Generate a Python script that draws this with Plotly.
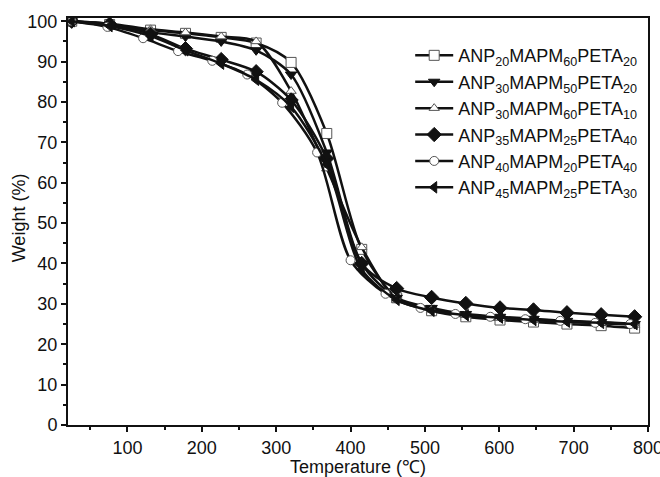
import plotly.graph_objects as go

# Temperatures (°C) at the marker positions
temp_a = [25, 76, 131, 178, 226, 273, 320, 368, 415, 462, 509, 555, 601, 646, 691, 737, 782]
temp_c = [25, 73, 121, 168, 214, 261, 308, 355, 400, 447, 494, 541, 588, 635, 682, 729, 776]

w_anp20 = [100, 99.2, 97.8, 97.0, 96.0, 94.6, 89.8, 72.2, 43.5, 31.5, 28.3, 26.8, 26.0, 25.5, 25.0, 24.6, 24.0]
w_anp30a = [100, 99.0, 97.3, 96.2, 95.0, 92.8, 86.8, 67.5, 40.0, 31.5, 29.0, 27.5, 26.8, 26.3, 25.8, 25.5, 25.0]
w_anp30b = [100, 99.4, 98.0, 97.2, 96.2, 95.0, 82.7, 63.5, 44.0, 31.0, 28.5, 27.2, 26.5, 26.0, 25.6, 25.2, 24.8]
w_anp35 = [100, 99.3, 96.8, 93.2, 90.5, 87.5, 80.5, 66.0, 40.0, 33.8, 31.6, 30.1, 29.0, 28.5, 27.8, 27.3, 26.8]
w_anp40 = [100, 98.6, 95.8, 92.6, 90.2, 86.8, 79.8, 67.5, 40.8, 32.5, 29.0, 27.5, 26.8, 26.2, 25.8, 25.3, 25.0]
w_anp45 = [100, 98.8, 96.3, 92.8, 89.5, 85.5, 78.8, 64.5, 38.5, 31.0, 28.3, 27.2, 26.6, 26.0, 25.6, 25.3, 25.0]

names = [
    "ANP<sub>20</sub>MAPM<sub>60</sub>PETA<sub>20</sub>",
    "ANP<sub>30</sub>MAPM<sub>50</sub>PETA<sub>20</sub>",
    "ANP<sub>30</sub>MAPM<sub>60</sub>PETA<sub>10</sub>",
    "ANP<sub>35</sub>MAPM<sub>25</sub>PETA<sub>40</sub>",
    "ANP<sub>40</sub>MAPM<sub>20</sub>PETA<sub>40</sub>",
    "ANP<sub>45</sub>MAPM<sub>25</sub>PETA<sub>30</sub>",
]

series = [
    (temp_a, w_anp20, "square", "white", 10),
    (temp_a, w_anp30a, "triangle-down", "#111", 10),
    (temp_a, w_anp30b, "triangle-up", "white", 9),
    (temp_a, w_anp35, "diamond", "#111", 11),
    (temp_c, w_anp40, "circle", "white", 9),
    (temp_a, w_anp45, "triangle-left", "#111", 10),
]

FONT = "Liberation Sans, Arial, Helvetica, sans-serif"

fig = go.Figure()
for (xs, ys, sym, fill, sz), nm in zip(series, names):
    fig.add_trace(go.Scatter(
        x=xs, y=ys, name=nm, mode="lines+markers",
        line=dict(color="#111", width=2.5, shape="spline", smoothing=0.8),
        marker=dict(symbol=sym, size=sz, color=fill,
                    line=dict(color="#555" if fill == "white" else "#111", width=1)),
    ))

fig.update_layout(
    width=660, height=477,
    margin=dict(l=68, r=12, t=18, b=52),
    paper_bgcolor="white", plot_bgcolor="white",
    font=dict(family=FONT, size=18, color="#111"),
    showlegend=True,
    legend=dict(x=0.59, y=0.953, xanchor="left", yanchor="top",
                bgcolor="rgba(0,0,0,0)", borderwidth=0,
                font=dict(family=FONT, size=18, color="#111"),
                tracegroupgap=0, itemwidth=38),
    xaxis=dict(range=[20, 800], tickvals=[100, 200, 300, 400, 500, 600, 700, 800],
               ticks="outside", ticklen=5, tickwidth=1.5, tickcolor="#111",
               ticklabeloverflow="allow", automargin=False,
               minor=dict(tickvals=[50, 150, 250, 350, 450, 550, 650, 750], ticks="outside",
                          ticklen=3, tickwidth=1.5, tickcolor="#111"),
               showline=True, linecolor="#111", linewidth=2, mirror=True,
               showgrid=False, zeroline=False,
               title=dict(text="Temperature (℃)", font=dict(size=18), standoff=6)),
    yaxis=dict(range=[0, 100.8], tickvals=list(range(0, 101, 10)),
               ticks="outside", ticklen=5, tickwidth=1.5, tickcolor="#111",
               automargin=False,
               minor=dict(tickvals=list(range(5, 100, 10)), ticks="outside",
                          ticklen=3, tickwidth=1.5, tickcolor="#111"),
               showline=True, linecolor="#111", linewidth=2, mirror=True,
               showgrid=False, zeroline=False),
    annotations=[dict(text="Weight (%)", textangle=-90, xref="paper", yref="paper",
                      x=-0.083, y=0.51, xanchor="center", yanchor="middle",
                      showarrow=False, font=dict(family=FONT, size=18, color="#111"))],
)

fig.write_html("out.html", config={"displayModeBar": False},
               post_script="document.body.style.margin='0';document.body.style.overflow='hidden';")
